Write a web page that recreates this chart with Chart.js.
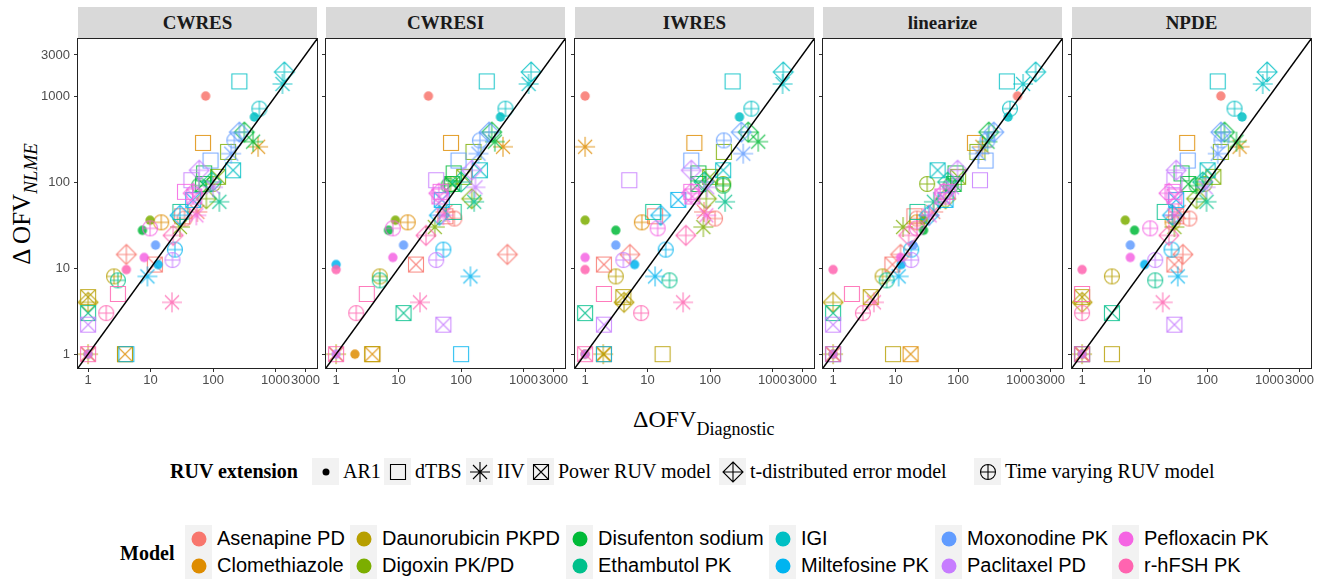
<!DOCTYPE html>
<html>
<head>
<meta charset="utf-8">
<script src="https://cdn.jsdelivr.net/npm/chart.js@4/dist/chart.umd.min.js"></script>
<style>
  body { margin: 0; background: #fff; }
  #fig { position: relative; width: 1328px; height: 582px; overflow: hidden; font-family: "Liberation Serif", serif; color: #000; }
  .strip { position: absolute; top: 7px; height: 32px; background: #d9d9d9; text-align: center; font: bold 19px "Liberation Serif"; line-height: 32px; color: #1a1a1a; }
  #ytitle { position: absolute; left: 22px; top: 204px; transform: translate(-50%, -50%) rotate(-90deg); white-space: nowrap; font-size: 25px; }
  #ytitle span { position: relative; top: 7px; font-size: 19px; font-style: italic; }
  #xtitle { position: absolute; left: 633px; top: 407px; white-space: nowrap; font-size: 24px; line-height: 24px; }
  #xtitle span { position: relative; top: 8px; font-size: 18px; }
  .key { position: absolute; width: 27px; height: 27px; background: #f2f2f2; }
  .key canvas { display: block; }
  .lab { position: absolute; height: 27px; line-height: 27px; white-space: nowrap; }
  .ruvlab { font-size: 20px; font-family: "Liberation Serif"; }
  .modlab { font-size: 20px; font-family: "Liberation Sans"; }
  .ltitle { position: absolute; height: 27px; font: bold 20px "Liberation Serif"; line-height: 27px; white-space: nowrap; }
</style>
</head>
<body>
<div id="fig">
  <div id="ytitle">Δ OFV<span>NLME</span></div>
  <div id="xtitle">ΔOFV<span>Diagnostic</span></div>
</div>
<script>
const models = ['Asenapine PD', 'Clomethiazole', 'Daunorubicin PKPD', 'Digoxin PK/PD', 'Disufenton sodium', 'Ethambutol PK',
                'IGI', 'Miltefosine PK', 'Moxonodine PK', 'Paclitaxel PD', 'Pefloxacin PK', 'r-hFSH PK'];
const ruvTypes = ['AR1', 'dTBS', 'IIV', 'Power RUV model', 't-distributed error model', 'Time varying RUV model'];
const panels = ['CWRES', 'CWRESI', 'IWRES', 'linearize', 'NPDE'];
const tickValues = [1, 10, 100, 1000, 3000];
const tickLabels = ['1', '10', '100', '1000', '3000'];
const axisRange = [0.69, 4600];

// one entry per fitted extension, grouped by model (one line per model)
const pointModel = [
  0, 0, 0, 0, 0, 0,
  1, 1, 1, 1, 1,
  2, 2, 2, 2, 2,
  3, 3, 3, 3, 3, 3,
  4, 4, 4, 4, 4, 4,
  5, 5, 5, 5, 5,
  6, 6, 6, 6, 6, 6,
  7, 7, 7, 7, 7, 7,
  8, 8, 8, 8, 8,
  9, 9, 9, 9, 9, 9,
  10, 10, 10, 10, 10, 10,
  11, 11, 11, 11, 11, 11
];
const pointRuv = [
  0, 3, 4, 5, 1, 2,
  1, 2, 5, 0, 3,
  1, 5, 3, 4, 2,
  0, 1, 2, 4, 3, 5,
  0, 4, 1, 5, 2, 3,
  3, 5, 2, 1, 4,
  4, 2, 1, 5, 0, 3,
  0, 2, 5, 4, 3, 1,
  0, 5, 4, 2, 1,
  0, 3, 5, 1, 4, 2,
  0, 5, 4, 1, 3, 2,
  0, 2, 5, 1, 3, 4
];
// delta OFV of the NLME fit (same in every panel)
const ofvNlme = [
  1000, 11, 14.4, 37.7, 40, 45,
  285, 257, 34, 1, 1,
  1, 8, 4.6, 4, 1,
  36, 224, 30, 64, 115, 95,
  27.5, 380, 126, 91, 295, 95,
  3, 7.2, 59, 45, 100,
  1905, 1380, 1479, 713, 571, 137,
  11, 8, 16.4, 41, 62, 1,
  18.5, 305, 380, 214, 178,
  1, 2.2, 12.4, 105, 137, 87,
  13.3, 29, 74, 77, 68, 41,
  9.6, 4, 3, 5, 1, 24
];
// delta OFV predicted by each diagnostic
const xCwres = [
  76, 11.7, 4.1, 35, 32, 56,
  69, 525, 14.8, 1, 3.9,
  3.9, 2.6, 1, 1, 1,
  9.8, 174, 29.5, 78, 120, 100,
  7.4, 316, 72, 60, 437, 69,
  1, 3, 126, 30, 95,
  1380, 1288, 263, 550, 457, 209,
  13.2, 8.9, 24.5, 29.5, 48, 4.1,
  12, 219, 263, 195, 91,
  1, 1, 22.4, 45, 60, 100,
  7.9, 9.8, 48, 35.5, 50, 54,
  4.1, 22, 1.95, 3, 1, 23
];
const xCwresi = [
  30, 19, 550, 78, 56, 56,
  69, 468, 14, 2, 3.8,
  3.8, 5, null, null, 1,
  8.9, 158, 38, 148, 112, 68,
  6.9, 309, 76, 63, 347, 72,
  12, 5, 162, 76, 100,
  1318, 1202, 257, 513, 427, 200,
  1, 141, 52, 45, 49, 100,
  12, 200, 280, 190, 91,
  1, 52, 40, 40, 148, 170,
  8.1, 8.1, 44, 47, 45, 52,
  1, 22, 2.1, 3.1, 1, 27.5
];
const xIwres = [
  1, 2, 5.2, 120, 13.2, 80,
  56, 1, 8.1, 1, 2,
  17.4, 3.1, 4.1, 4.2, 1.95,
  1, 166, 78, 87, 100, 162,
  3.1, 407, 65, 162, 589, 65,
  1, 22.4, 174, 12.3, 80,
  1479, 1445, 229, 457, 295, 162,
  6.2, 13.2, 19.5, 16.2, 31, 2,
  3.1, 166, 316, 339, 50,
  1, 2, 4.1, 5.1, 50, 90,
  1, 14.5, 50, 50, 52, 87,
  1, 37, 7.9, 2, 1, 41
];
const xLinearize = [
  891, 8.9, 12, 22, 20, 40,
  186, 245, 22, 1, 17.4,
  9.1, 6.2, 4, 1, 1,
  28, 204, 13.2, 63, 100, 32,
  28, 309, 91, 76, 295, 85,
  1, 7.2, 41, 22.4, 68,
  1738, 1096, 603, 676, 631, 47,
  12.3, 11.2, 17.8, 34, 63, 1,
  19, 295, 372, 214, 275,
  1, 1, 17.8, 224, 98, 80,
  12, 22, 59, 68, 56, 35,
  1, 4.5, 3, 2, 1, 16.2
];
const xNpde = [
  166, 30, 41, 52, 32, 35,
  48, 331, 28, 1, 1,
  3, 3, 1, 1, 1,
  4.9, 166, 30, 68, 126, 91,
  6.9, 190, 39, 68, 295, 50,
  3, 14.8, 98, 21, 85,
  912, 776, 148, 275, 363, 102,
  10, 34, 27, 28, 32, 1,
  5.9, 170, 166, 148, 49,
  1, 30, 14.8, 30, 32, 95,
  5.9, 12.3, 24.5, 28, 30, 30,
  1, 19.5, 1, 1, 1, 24.5
];

// ggplot default hue palette, 12 levels
const modelColors = ['#F8766D', '#DE8C00', '#B79F00', '#7CAE00', '#00BA38', '#00C08B',
                     '#00BFC4', '#00B4F0', '#619CFF', '#C77CFF', '#F564E3', '#FF64B0'];

const xByPanel = [xCwres, xCwresi, xIwres, xLinearize, xNpde];
const panelLefts = [78, 326, 575, 823, 1072];
const plotW = 239, plotBottom = 368, leftPad = 50, rightPad = 20, bottomAxis = 30;

// draws one ggplot-like shape into a small canvas used as pointStyle
function makeIcon(ruv, color, alpha, dot) {
  const c = document.createElement('canvas');
  c.width = 26; c.height = 26;
  const g = c.getContext('2d');
  g.translate(13, 13);
  g.strokeStyle = color; g.fillStyle = color;
  g.globalAlpha = alpha; g.lineWidth = 1.1;
  const seg = (x1, y1, x2, y2) => { g.moveTo(x1, y1); g.lineTo(x2, y2); };
  g.beginPath();
  if (ruv === 0) {
    g.arc(0, 0, dot, 0, 2 * Math.PI);
    g.fill();
    return c;
  }
  if (ruv === 1 || ruv === 3) {
    g.rect(-7.5, -7.5, 15, 15);
    if (ruv === 3) { seg(-7.5, -7.5, 7.5, 7.5); seg(-7.5, 7.5, 7.5, -7.5); }
  } else if (ruv === 2) {
    seg(-10, 0, 10, 0); seg(0, -10, 0, 10);
    seg(-7, -7, 7, 7); seg(-7, 7, 7, -7);
  } else if (ruv === 4) {
    g.moveTo(0, -10); g.lineTo(10, 0); g.lineTo(0, 10); g.lineTo(-10, 0); g.closePath();
    seg(-10, 0, 10, 0); seg(0, -10, 0, 10);
  } else if (ruv === 5) {
    g.arc(0, 0, 7.5, 0, 2 * Math.PI);
    seg(-7.5, 0, 7.5, 0); seg(0, -7.5, 0, 7.5);
  }
  g.stroke();
  return c;
}

const icons = modelColors.map(col => ruvTypes.map((_, r) => makeIcon(r, col, 0.85, 4.7)));

const panelFrame = {
  id: 'panelFrame',
  afterDatasetsDraw(chart) {
    const { ctx, chartArea: a } = chart;
    ctx.save();
    ctx.strokeStyle = '#222';
    ctx.lineWidth = 1;
    ctx.strokeRect(Math.round(a.left) - 0.5, Math.round(a.top) - 0.5,
                   Math.round(a.right - a.left) + 1, Math.round(a.bottom - a.top) + 1);
    ctx.restore();
  }
};

function logAxis(isX, showLabels) {
  return {
    type: 'logarithmic',
    min: axisRange[0],
    max: axisRange[1],
    afterBuildTicks: s => { s.ticks = tickValues.map(v => ({ value: v })); },
    afterFit: s => { if (isX) s.height = bottomAxis; else s.width = leftPad; },
    border: { display: false },
    grid: { drawOnChartArea: false, drawTicks: true, tickLength: 4, tickColor: '#333', tickWidth: 1 },
    ticks: {
      display: showLabels,
      autoSkip: false,
      maxRotation: 0,
      minRotation: 0,
      padding: isX ? 1 : 4,
      color: '#4d4d4d',
      font: { family: 'Liberation Sans', size: 13 },
      callback: (v, i) => tickLabels[i]
    }
  };
}

const fig = document.getElementById('fig');

panels.forEach((name, p) => {
  const left = panelLefts[p];

  const strip = document.createElement('div');
  strip.className = 'strip';
  strip.style.left = left + 'px';
  strip.style.width = plotW + 'px';
  strip.textContent = name;
  fig.appendChild(strip);

  const cv = document.createElement('canvas');
  cv.width = leftPad + plotW + rightPad;
  cv.height = plotBottom + bottomAxis;
  cv.style.cssText = `position:absolute;left:${left - leftPad}px;top:0;width:${cv.width}px;height:${cv.height}px`;
  fig.appendChild(cv);

  const pts = [];
  ofvNlme.forEach((y, i) => {
    const x = xByPanel[p][i];
    if (x != null) pts.push({ x: x, y: y, m: pointModel[i], r: pointRuv[i] });
  });

  new Chart(cv, {
    type: 'scatter',
    data: {
      datasets: [
        {
          type: 'line',
          data: axisRange.map(v => ({ x: v, y: v })),
          borderColor: '#000',
          borderWidth: 1.5,
          pointRadius: 0,
          order: 0
        },
        {
          data: pts,
          pointStyle: ctx => icons[ctx.raw.m][ctx.raw.r],
          pointRadius: 5,
          order: 1
        }
      ]
    },
    options: {
      responsive: false,
      animation: false,
      devicePixelRatio: 1,
      layout: { padding: { top: 39, right: rightPad, left: 0, bottom: 0 } },
      plugins: { legend: { display: false }, tooltip: { enabled: false } },
      scales: { x: logAxis(true, true), y: logAxis(false, p === 0) }
    },
    plugins: [panelFrame]
  });
});

// legends
function addKey(left, top, canvas) {
  const k = document.createElement('div');
  k.className = 'key';
  k.style.left = left + 'px';
  k.style.top = top + 'px';
  canvas.style.margin = '0.5px';
  k.appendChild(canvas);
  fig.appendChild(k);
}
function addText(cls, left, top, text) {
  const d = document.createElement('div');
  d.className = cls;
  d.style.left = left + 'px';
  d.style.top = top + 'px';
  d.textContent = text;
  fig.appendChild(d);
}

addText('ltitle', 170, 458, 'RUV extension');
const ruvKeyLefts = [312, 384, 466, 527, 719, 974];
ruvTypes.forEach((r, i) => {
  addKey(ruvKeyLefts[i], 458, makeIcon(i, '#000', 1, 3.5));
  addText('lab ruvlab', ruvKeyLefts[i] + 31, 458, r);
});

addText('ltitle', 120, 540, 'Model');
const modelKeyLefts = [185, 350, 566, 769, 935, 1112];
models.forEach((m, i) => {
  const col = Math.floor(i / 2), row = i % 2;
  const top = 525 + row * 27;
  addKey(modelKeyLefts[col], top, makeIcon(0, modelColors[i], 1, 7.5));
  addText('lab modlab', modelKeyLefts[col] + 32, top, m);
});
</script>
</body>
</html>
